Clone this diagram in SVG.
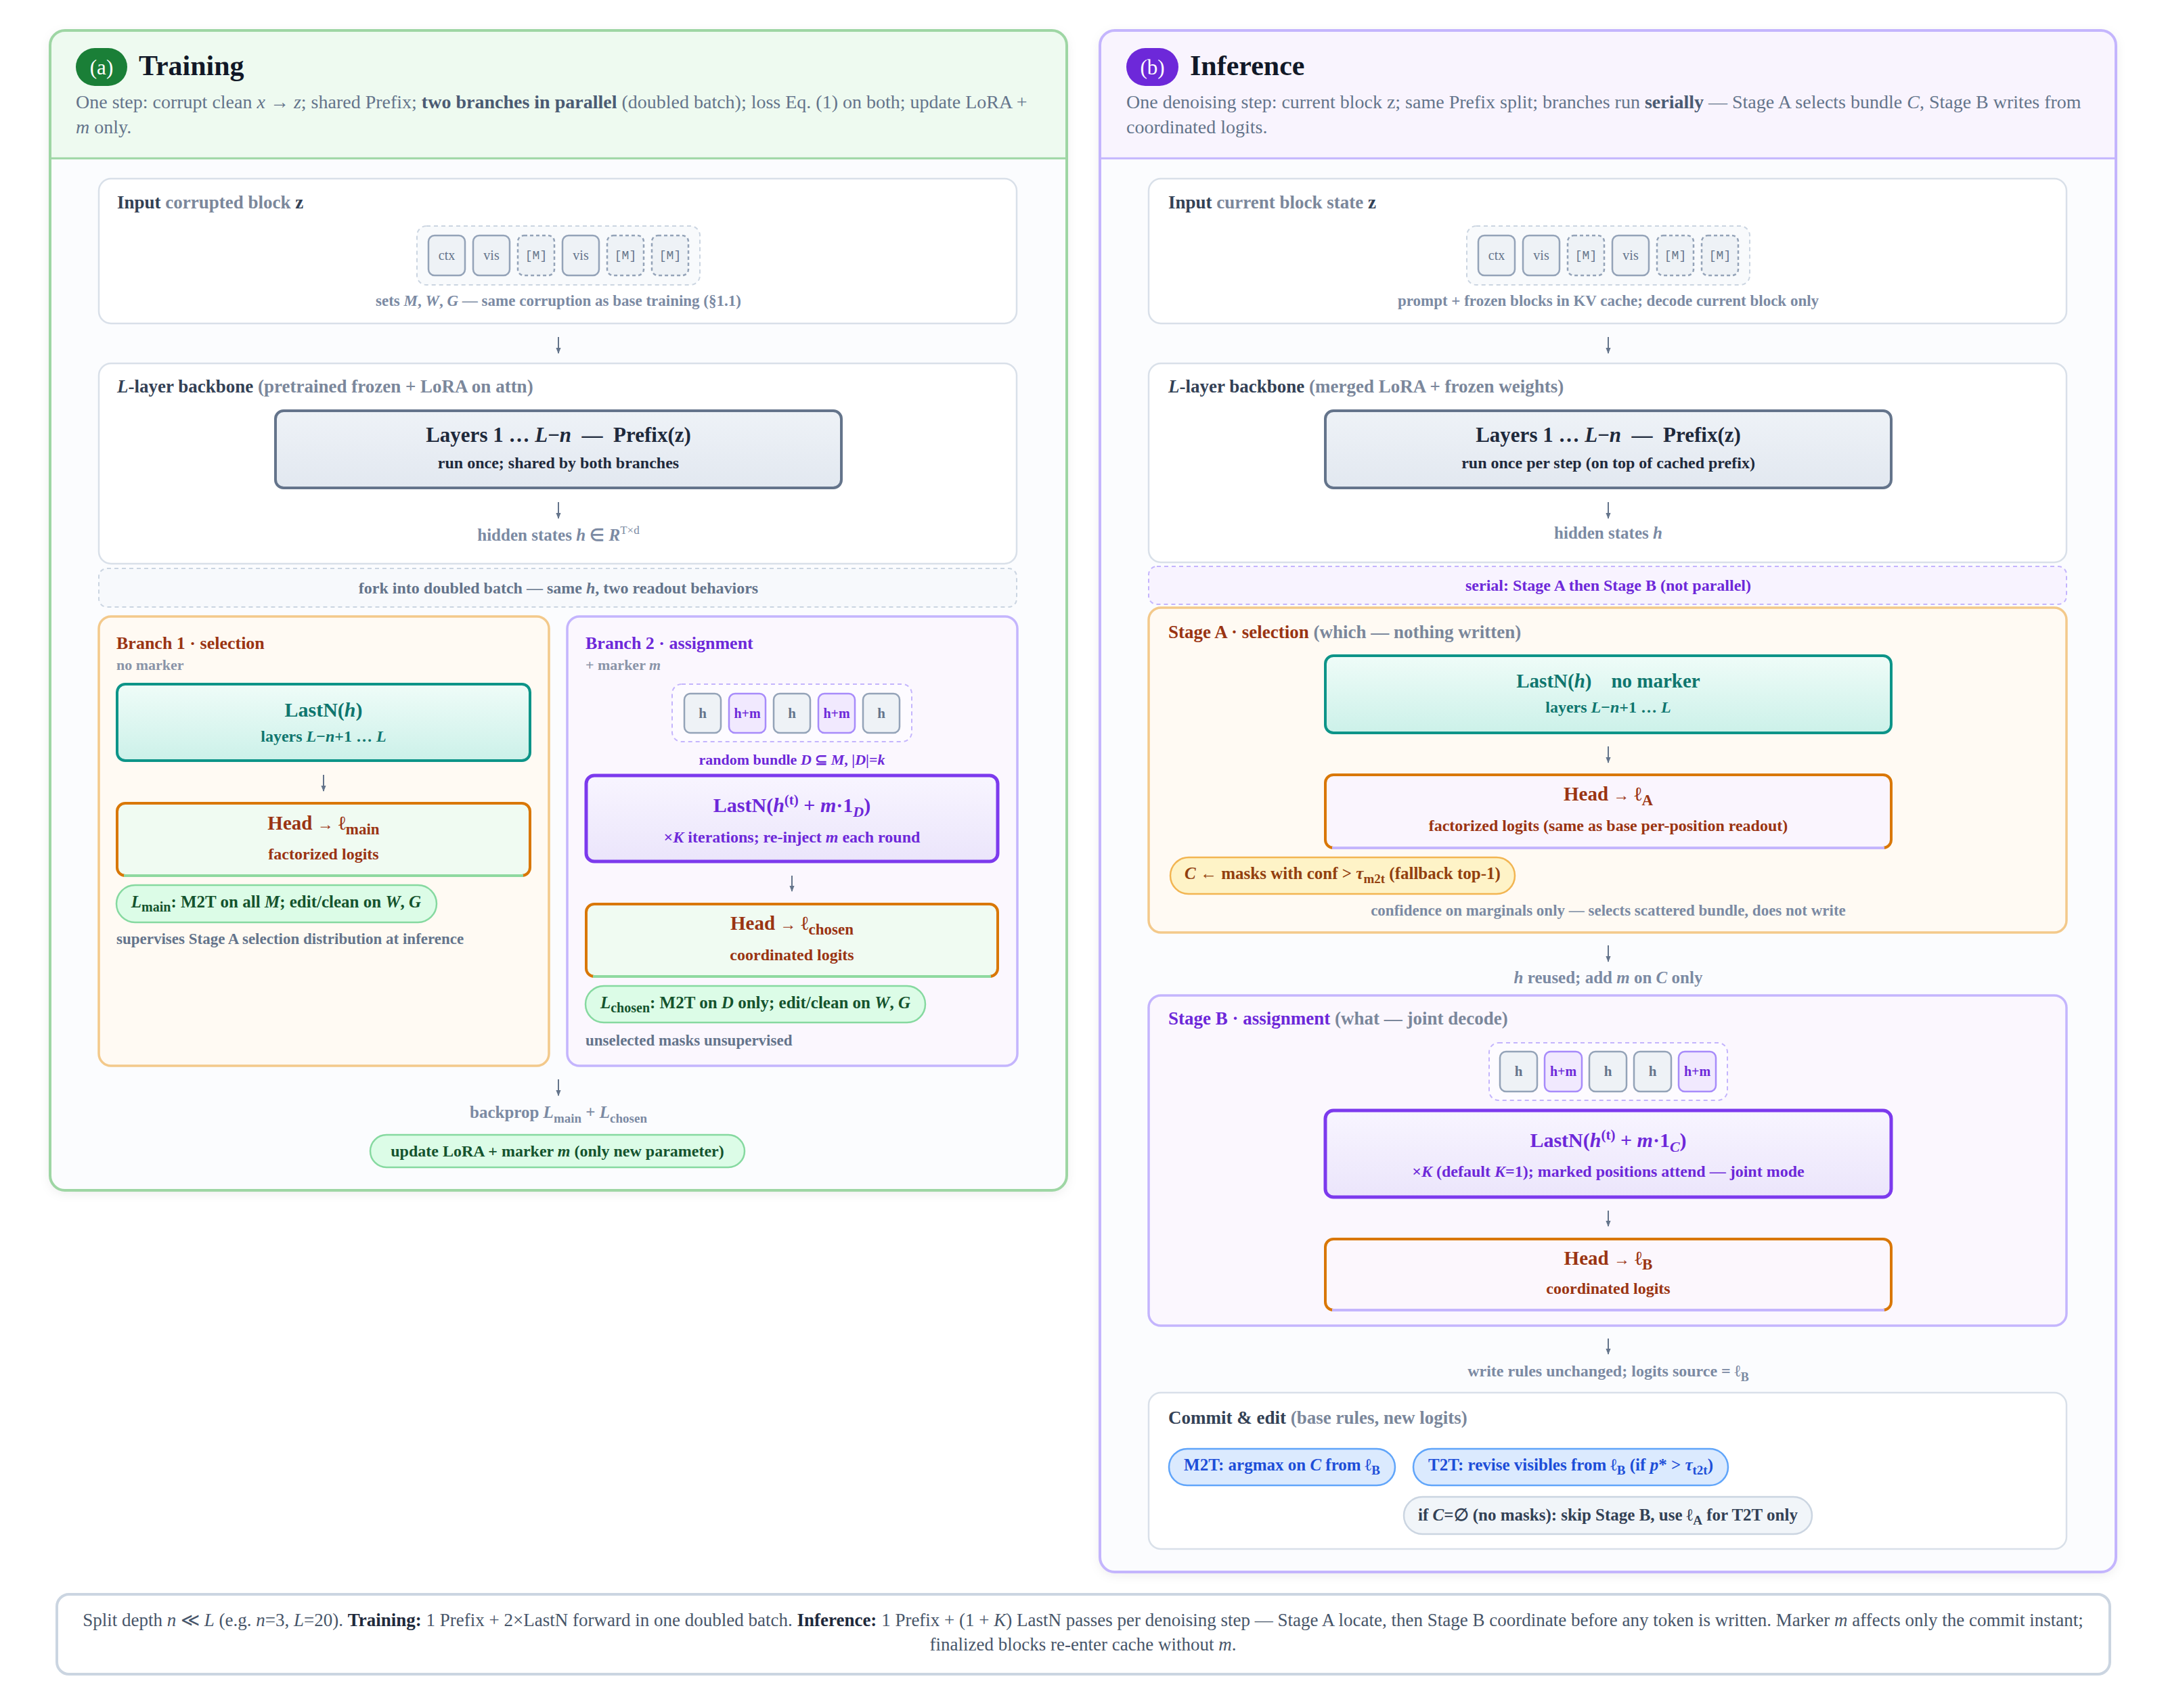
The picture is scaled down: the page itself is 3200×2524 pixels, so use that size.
<svg xmlns="http://www.w3.org/2000/svg" width="3200" height="2524" viewBox="0 0 3200 2524">
<defs>
<style>
text{font-family:"Liberation Serif","Times New Roman",serif;}
.sub{font-size:28px;fill:#64748b;}
.sub .b{font-weight:bold;fill:#4b5b73;}
.h1{font-size:42px;font-weight:bold;fill:#111827;}
.badge{font-size:31px;fill:#fff;text-anchor:middle;}
.bt{font-size:27px;font-weight:bold;fill:#334155;}
.gr{fill:#7b879b;}
.cap{font-size:23px;font-weight:bold;fill:#7b8aa3;text-anchor:middle;}
.capP{font-size:24px;font-weight:bold;fill:#6d28d9;text-anchor:middle;}
.pt{font-size:31px;font-weight:bold;fill:#1e293b;text-anchor:middle;}
.ps{font-size:24px;font-weight:bold;fill:#1e293b;text-anchor:middle;}
.tt{font-size:30px;font-weight:bold;fill:#0f766e;text-anchor:middle;}
.ts{font-size:24px;font-weight:bold;fill:#0f766e;text-anchor:middle;}
.vt{font-size:30px;font-weight:bold;fill:#6d28d9;text-anchor:middle;}
.vs{font-size:24px;font-weight:bold;fill:#6d28d9;text-anchor:middle;}
.ot{font-size:29px;font-weight:bold;fill:#9a3412;text-anchor:middle;}
.os{font-size:24px;font-weight:bold;fill:#9a3412;text-anchor:middle;}
.arw{font-weight:normal;font-size:24px;}
.gp{font-size:25px;font-weight:bold;fill:#14532d;text-anchor:middle;}
.pa{font-size:25px;font-weight:bold;fill:#92400e;text-anchor:middle;}
.pb{font-size:25px;font-weight:bold;fill:#1d4ed8;text-anchor:middle;}
.pg{font-size:25px;font-weight:bold;fill:#334155;text-anchor:middle;}
.note{font-size:23px;font-weight:bold;fill:#64748b;}
.nm{font-size:22px;font-weight:bold;fill:#8a94a8;}
.ti{font-size:26px;font-weight:bold;}
.ck{font-size:20px;fill:#64748b;text-anchor:middle;}
.ckm{font-size:18px;fill:#64748b;text-anchor:middle;font-family:"Liberation Mono","DejaVu Sans Mono",monospace;}
.ckh{font-size:21px;font-weight:bold;fill:#64748b;text-anchor:middle;}
.ckp{font-size:20px;font-weight:bold;fill:#6d28d9;text-anchor:middle;}
.chip{fill:#eef2f6;stroke:#94a3b8;stroke-width:2.5;}
.chipd{fill:#eef2f6;stroke:#94a3b8;stroke-width:2.5;stroke-dasharray:5 4;}
.chipp{fill:#f1e9fe;stroke:#a78bfa;stroke-width:2.5;}
.grp{fill:#f8fafc;stroke:#cbd5e1;stroke-width:2;stroke-dasharray:6 5;}
.grpp{fill:#fdfbff;stroke:#c4b5fd;stroke-width:2;stroke-dasharray:6 5;}
.card{fill:#ffffff;stroke:#d9e0e9;stroke-width:2.5;}
.pre{fill:url(#gPre);stroke:#64748b;stroke-width:4;}
.teal{fill:url(#gTeal);stroke:#0d9488;stroke-width:4;}
.vio{fill:url(#gVio);stroke:#7c3aed;stroke-width:5;}
.head{stroke:#d97706;stroke-width:4;}
.obox{fill:#fffaf3;stroke:#f3c98b;stroke-width:3.5;}
.pbox{fill:#fbf7fe;stroke:#c4b5fd;stroke-width:3.5;}
.gpill{fill:#dcfce7;stroke:#86d9a0;stroke-width:2.5;}
.foot{font-size:27px;fill:#475569;text-anchor:middle;}
.foot .b{font-weight:bold;fill:#1e293b;}
.conn{stroke:#64748b;stroke-width:2;fill:none;}
</style>
<linearGradient id="gPre" x1="0" y1="0" x2="0" y2="1"><stop offset="0" stop-color="#eef2f7"/><stop offset="1" stop-color="#e2e8f0"/></linearGradient>
<linearGradient id="gTeal" x1="0" y1="0" x2="0" y2="1"><stop offset="0" stop-color="#effcf8"/><stop offset="1" stop-color="#ccf1e9"/></linearGradient>
<linearGradient id="gVio" x1="0" y1="0" x2="0" y2="1"><stop offset="0" stop-color="#f8f5ff"/><stop offset="1" stop-color="#ebe5fb"/></linearGradient>
<marker id="arr" viewBox="0 0 10 10" refX="9" refY="5" markerWidth="9" markerHeight="9" markerUnits="userSpaceOnUse" orient="auto"><path d="M0,1 L10,5 L0,9 z" fill="#64748b"/></marker>
<filter id="sh" x="-5%" y="-5%" width="110%" height="110%"><feDropShadow dx="0" dy="4" stdDeviation="8" flood-color="#0f172a" flood-opacity="0.08"/></filter>
<clipPath id="clipL"><rect x="74" y="45" width="1502" height="1714" rx="22"/></clipPath>
<clipPath id="clipR"><rect x="1625" y="45" width="1501" height="2278" rx="22"/></clipPath>
</defs>
<rect width="3200" height="2524" fill="#ffffff"/>

<!-- ===== Panel (a) Training ===== -->
<g id="panel-training">
<rect x="74" y="45" width="1502" height="1714" rx="22" fill="#fbfcfe" filter="url(#sh)"/>
<rect x="74" y="45" width="1502" height="189" fill="#eefaf0" clip-path="url(#clipL)"/>
<line x1="74" y1="234" x2="1576" y2="234" stroke="#9ed6a4" stroke-width="3"/>
<rect x="74" y="45" width="1502" height="1714" rx="22" fill="none" stroke="#9ed6a4" stroke-width="4"/>
<rect x="112" y="71" width="76" height="56" rx="28" fill="#1a7f37"/>
<text class="badge" x="150" y="110">(a)</text>
<text class="h1" x="205" y="111">Training</text>
<text class="sub" x="112" y="160">One step: corrupt clean <tspan font-style="italic">x</tspan> → <tspan font-style="italic">z</tspan>; shared Prefix; <tspan class="b">two branches in parallel</tspan> (doubled batch); loss Eq. (1) on both; update LoRA +</text>
<text class="sub" x="112" y="197"><tspan font-style="italic">m</tspan> only.</text>
</g>

<g id="train-input">
<rect class="card" x="146" y="264" width="1356" height="214" rx="18"/>
<text class="bt" x="173" y="308">Input <tspan class="gr">corrupted block </tspan>z</text>
<rect class="grp" x="616" y="334" width="418" height="87" rx="14"/>
<rect class="chip" x="633" y="348" width="54" height="59" rx="9"/><text class="ck" x="660" y="384">ctx</text>
<rect class="chip" x="699" y="348" width="54" height="59" rx="9"/><text class="ck" x="726" y="384">vis</text>
<rect class="chipd" x="765" y="348" width="54" height="59" rx="9"/><text class="ckm" x="792" y="383">[M]</text>
<rect class="chip" x="831" y="348" width="54" height="59" rx="9"/><text class="ck" x="858" y="384">vis</text>
<rect class="chipd" x="897" y="348" width="54" height="59" rx="9"/><text class="ckm" x="924" y="383">[M]</text>
<rect class="chipd" x="963" y="348" width="54" height="59" rx="9"/><text class="ckm" x="990" y="383">[M]</text>
<text class="cap" x="825" y="452">sets <tspan font-style="italic">M</tspan>, <tspan font-style="italic">W</tspan>, <tspan font-style="italic">G</tspan> — same corruption as base training (§1.1)</text>
</g>

<g id="train-backbone">
<rect class="card" x="146" y="537" width="1356" height="296" rx="18"/>
<text class="bt" x="173" y="580"><tspan font-style="italic">L</tspan>-layer backbone <tspan class="gr">(pretrained frozen + LoRA on attn)</tspan></text>
</g>
<g id="train-prefix">
<rect class="pre" x="407" y="607" width="836" height="114" rx="12"/>
<text class="pt" x="825" y="653">Layers 1 … <tspan font-style="italic">L</tspan>−<tspan font-style="italic">n</tspan>&#160; —&#160; Prefix(z)</text>
<text class="ps" x="825" y="692">run once; shared by both branches</text>
</g>
<g id="train-hidden">
<text class="cap" x="825" y="799" style="font-size:25px">hidden states <tspan font-style="italic">h</tspan> ∈ <tspan font-style="italic">R</tspan><tspan dy="-10" style="font-size:17px;font-weight:normal">T×d</tspan></text>
</g>
<g id="train-fork">
<rect x="146" y="840" width="1356" height="57" rx="12" fill="#f7f9fc" stroke="#cbd5e1" stroke-width="2" stroke-dasharray="6 5"/>
<text class="cap" x="825" y="877" style="font-size:24px;fill:#64748b">fork into doubled batch — same <tspan font-style="italic">h</tspan>, two readout behaviors</text>
</g>

<g id="branch1">
<rect class="obox" x="146" y="911" width="665" height="664" rx="18"/>
<text class="ti" x="172" y="959" fill="#9a3412">Branch 1 · selection</text>
<text class="nm" x="172" y="990">no marker</text>
</g>
<g id="b1-lastn">
<rect class="teal" x="173" y="1011" width="610" height="113" rx="12"/>
<text class="tt" x="478" y="1059">LastN(<tspan font-style="italic">h</tspan>)</text>
<text class="ts" x="478" y="1096">layers <tspan font-style="italic">L</tspan>−<tspan font-style="italic">n</tspan>+1 … <tspan font-style="italic">L</tspan></text>
</g>
<g id="b1-head">
<rect class="head" x="173" y="1187" width="610" height="107" rx="12" fill="#f0fbf2"/>
<line x1="183" y1="1294" x2="773" y2="1294" stroke="#8fd9a0" stroke-width="4"/>
<text class="ot" x="478" y="1226">Head <tspan class="arw">→</tspan> ℓ<tspan dy="7" style="font-size:23px">main</tspan></text>
<text class="os" x="478" y="1270">factorized logits</text>
</g>
<g id="b1-loss">
<rect class="gpill" x="172" y="1308" width="473" height="55" rx="27.5"/>
<text class="gp" x="408" y="1341"><tspan font-style="italic">L</tspan><tspan dy="6" style="font-size:20px">main</tspan><tspan dy="-6">: M2T on all </tspan><tspan font-style="italic">M</tspan>; edit/clean on <tspan font-style="italic">W</tspan>, <tspan font-style="italic">G</tspan></text>
<text class="note" x="172" y="1395">supervises Stage A selection distribution at inference</text>
</g>

<g id="branch2">
<rect class="pbox" x="838" y="911" width="665" height="664" rx="18"/>
<text class="ti" x="865" y="959" fill="#6d28d9">Branch 2 · assignment</text>
<text class="nm" x="865" y="990">+ marker <tspan font-style="italic">m</tspan></text>
<rect class="grpp" x="993" y="1011" width="354" height="85" rx="14"/>
<rect class="chip" x="1011" y="1025" width="54" height="58" rx="9"/><text class="ckh" x="1038" y="1061">h</text>
<rect class="chipp" x="1077" y="1025" width="54" height="58" rx="9"/><text class="ckp" x="1104" y="1061">h+m</text>
<rect class="chip" x="1143" y="1025" width="54" height="58" rx="9"/><text class="ckh" x="1170" y="1061">h</text>
<rect class="chipp" x="1209" y="1025" width="54" height="58" rx="9"/><text class="ckp" x="1236" y="1061">h+m</text>
<rect class="chip" x="1275" y="1025" width="54" height="58" rx="9"/><text class="ckh" x="1302" y="1061">h</text>
<text class="capP" x="1170" y="1130" style="font-size:22px">random bundle <tspan font-style="italic">D</tspan> ⊆ <tspan font-style="italic">M</tspan>, |<tspan font-style="italic">D</tspan>|=<tspan font-style="italic">k</tspan></text>
</g>
<g id="b2-lastn">
<rect class="vio" x="866" y="1146" width="608" height="127" rx="12"/>
<text class="vt" x="1170" y="1200">LastN(<tspan font-style="italic">h</tspan><tspan dy="-11" style="font-size:21px">(t)</tspan><tspan dy="11"> + </tspan><tspan font-style="italic">m</tspan>·1<tspan dy="7" font-style="italic" style="font-size:22px">D</tspan><tspan dy="-7">)</tspan></text>
<text class="vs" x="1170" y="1245">×<tspan font-style="italic">K</tspan> iterations; re-inject <tspan font-style="italic">m</tspan> each round</text>
</g>
<g id="b2-head">
<rect class="head" x="866" y="1336" width="608" height="107" rx="12" fill="#f0fbf2"/>
<line x1="876" y1="1443" x2="1464" y2="1443" stroke="#8fd9a0" stroke-width="4"/>
<text class="ot" x="1170" y="1374">Head <tspan class="arw">→</tspan> ℓ<tspan dy="7" style="font-size:23px">chosen</tspan></text>
<text class="os" x="1170" y="1419">coordinated logits</text>
</g>
<g id="b2-loss">
<rect class="gpill" x="865" y="1457" width="502" height="54" rx="27"/>
<text class="gp" x="1116" y="1490"><tspan font-style="italic">L</tspan><tspan dy="6" style="font-size:20px">chosen</tspan><tspan dy="-6">: M2T on </tspan><tspan font-style="italic">D</tspan> only; edit/clean on <tspan font-style="italic">W</tspan>, <tspan font-style="italic">G</tspan></text>
<text class="note" x="865" y="1545">unselected masks unsupervised</text>
</g>

<g id="train-backprop">
<text class="cap" x="825" y="1652" style="font-size:25px">backprop <tspan font-style="italic">L</tspan><tspan dy="7" style="font-size:19px">main</tspan><tspan dy="-7"> + </tspan><tspan font-style="italic">L</tspan><tspan dy="7" style="font-size:19px">chosen</tspan></text>
</g>
<g id="train-update">
<rect class="gpill" x="547" y="1677" width="553" height="48" rx="24"/>
<text class="gp" x="823.5" y="1709" style="font-size:24px">update LoRA + marker <tspan font-style="italic">m</tspan> (only new parameter)</text>
</g>

<!-- ===== Panel (b) Inference ===== -->
<g id="panel-inference">
<rect x="1625" y="45" width="1501" height="2278" rx="22" fill="#fbfcfe" filter="url(#sh)"/>
<rect x="1625" y="45" width="1501" height="189" fill="#f9f4fe" clip-path="url(#clipR)"/>
<line x1="1625" y1="234" x2="3126" y2="234" stroke="#c4b5fd" stroke-width="3"/>
<rect x="1625" y="45" width="1501" height="2278" rx="22" fill="none" stroke="#c4b5fd" stroke-width="4"/>
<rect x="1664" y="71" width="77" height="56" rx="28" fill="#6d28d9"/>
<text class="badge" x="1702.5" y="110">(b)</text>
<text class="h1" x="1758" y="111">Inference</text>
<text class="sub" x="1664" y="160">One denoising step: current block z; same Prefix split; branches run <tspan class="b">serially</tspan> — Stage A selects bundle <tspan font-style="italic">C</tspan>, Stage B writes from</text>
<text class="sub" x="1664" y="197">coordinated logits.</text>
</g>

<g id="inf-input">
<rect class="card" x="1697" y="264" width="1356" height="214" rx="18"/>
<text class="bt" x="1726" y="308">Input <tspan class="gr">current block state </tspan>z</text>
<rect class="grp" x="2167" y="334" width="418" height="87" rx="14"/>
<rect class="chip" x="2184" y="348" width="54" height="59" rx="9"/><text class="ck" x="2211" y="384">ctx</text>
<rect class="chip" x="2250" y="348" width="54" height="59" rx="9"/><text class="ck" x="2277" y="384">vis</text>
<rect class="chipd" x="2316" y="348" width="54" height="59" rx="9"/><text class="ckm" x="2343" y="383">[M]</text>
<rect class="chip" x="2382" y="348" width="54" height="59" rx="9"/><text class="ck" x="2409" y="384">vis</text>
<rect class="chipd" x="2448" y="348" width="54" height="59" rx="9"/><text class="ckm" x="2475" y="383">[M]</text>
<rect class="chipd" x="2514" y="348" width="54" height="59" rx="9"/><text class="ckm" x="2541" y="383">[M]</text>
<text class="cap" x="2376" y="452">prompt + frozen blocks in KV cache; decode current block only</text>
</g>

<g id="inf-backbone">
<rect class="card" x="1697" y="537" width="1356" height="294" rx="18"/>
<text class="bt" x="1726" y="580"><tspan font-style="italic">L</tspan>-layer backbone <tspan class="gr">(merged LoRA + frozen weights)</tspan></text>
</g>
<g id="inf-prefix">
<rect class="pre" x="1958" y="607" width="836" height="114" rx="12"/>
<text class="pt" x="2376" y="653">Layers 1 … <tspan font-style="italic">L</tspan>−<tspan font-style="italic">n</tspan>&#160; —&#160; Prefix(z)</text>
<text class="ps" x="2376" y="692">run once per step (on top of cached prefix)</text>
</g>
<g id="inf-hidden">
<text class="cap" x="2376" y="796" style="font-size:25px">hidden states <tspan font-style="italic">h</tspan></text>
</g>
<g id="inf-serial">
<rect x="1697" y="837" width="1356" height="56" rx="12" fill="#f8f3ff" stroke="#c4b5fd" stroke-width="2" stroke-dasharray="6 5"/>
<text class="capP" x="2376" y="873">serial: Stage A then Stage B (not parallel)</text>
</g>

<g id="stageA">
<rect class="obox" x="1697" y="898" width="1356" height="480" rx="18"/>
<text class="ti" x="1726" y="943" fill="#9a3412" style="font-size:27px">Stage A · selection <tspan class="gr">(which — nothing written)</tspan></text>
</g>
<g id="sa-lastn">
<rect class="teal" x="1958" y="969" width="836" height="114" rx="12"/>
<text class="tt" x="2376" y="1016" style="font-size:29px">LastN(<tspan font-style="italic">h</tspan>)&#160;&#160;&#160; no marker</text>
<text class="ts" x="2376" y="1053">layers <tspan font-style="italic">L</tspan>−<tspan font-style="italic">n</tspan>+1 … <tspan font-style="italic">L</tspan></text>
</g>
<g id="sa-head">
<rect class="head" x="1958" y="1145" width="836" height="108" rx="12" fill="#faf5fe"/>
<line x1="1968" y1="1253" x2="2784" y2="1253" stroke="#c4b5fd" stroke-width="4"/>
<text class="ot" x="2376" y="1183">Head <tspan class="arw">→</tspan> ℓ<tspan dy="7" style="font-size:23px">A</tspan></text>
<text class="os" x="2376" y="1228">factorized logits (same as base per-position readout)</text>
</g>
<g id="sa-select">
<rect x="1729" y="1267" width="509" height="54" rx="27" fill="#fef3c7" stroke="#f2b552" stroke-width="2.5"/>
<text class="pa" x="1983.5" y="1299"><tspan font-style="italic">C</tspan> ← masks with conf &gt; <tspan font-style="italic">τ</tspan><tspan dy="6" style="font-size:19px">m2t</tspan><tspan dy="-6"> (fallback top-1)</tspan></text>
<text class="cap" x="2376" y="1353">confidence on marginals only — selects scattered bundle, does not write</text>
</g>
<g id="inf-reuse">
<text class="cap" x="2376" y="1453" style="font-size:25px"><tspan font-style="italic">h</tspan> reused; add <tspan font-style="italic">m</tspan> on <tspan font-style="italic">C</tspan> only</text>
</g>

<g id="stageB">
<rect class="pbox" x="1697" y="1471" width="1356" height="488" rx="18"/>
<text class="ti" x="1726" y="1514" fill="#6d28d9" style="font-size:27px">Stage B · assignment <tspan class="gr">(what — joint decode)</tspan></text>
<rect class="grpp" x="2200" y="1541" width="352" height="85" rx="14"/>
<rect class="chip" x="2216" y="1554" width="55" height="59" rx="9"/><text class="ckh" x="2243.5" y="1590">h</text>
<rect class="chipp" x="2282" y="1554" width="55" height="59" rx="9"/><text class="ckp" x="2309.5" y="1590">h+m</text>
<rect class="chip" x="2348" y="1554" width="55" height="59" rx="9"/><text class="ckh" x="2375.5" y="1590">h</text>
<rect class="chip" x="2414" y="1554" width="55" height="59" rx="9"/><text class="ckh" x="2441.5" y="1590">h</text>
<rect class="chipp" x="2480" y="1554" width="55" height="59" rx="9"/><text class="ckp" x="2507.5" y="1590">h+m</text>
</g>
<g id="sb-lastn">
<rect class="vio" x="1958" y="1641" width="836" height="128" rx="12"/>
<text class="vt" x="2376" y="1695">LastN(<tspan font-style="italic">h</tspan><tspan dy="-11" style="font-size:21px">(t)</tspan><tspan dy="11"> + </tspan><tspan font-style="italic">m</tspan>·1<tspan dy="7" font-style="italic" style="font-size:22px">C</tspan><tspan dy="-7">)</tspan></text>
<text class="vs" x="2376" y="1739">×<tspan font-style="italic">K</tspan> (default <tspan font-style="italic">K</tspan>=1); marked positions attend — joint mode</text>
</g>
<g id="sb-head">
<rect class="head" x="1958" y="1831" width="836" height="105" rx="12" fill="#fcf7fd"/>
<line x1="1968" y1="1936" x2="2784" y2="1936" stroke="#c4b5fd" stroke-width="4"/>
<text class="ot" x="2376" y="1869">Head <tspan class="arw">→</tspan> ℓ<tspan dy="7" style="font-size:23px">B</tspan></text>
<text class="os" x="2376" y="1912">coordinated logits</text>
</g>
<g id="inf-write">
<text class="cap" x="2376" y="2034" style="font-size:24px">write rules unchanged; logits source = ℓ<tspan dy="7" style="font-size:18px">B</tspan></text>
</g>

<g id="commit">
<rect class="card" x="1697" y="2058" width="1356" height="231" rx="18"/>
<text class="bt" x="1726" y="2104">Commit &amp; edit <tspan class="gr">(base rules, new logits)</tspan></text>
<rect x="1727" y="2141" width="334" height="54" rx="27" fill="#dbeafe" stroke="#60a5fa" stroke-width="2.5"/>
<text class="pb" x="1894" y="2173">M2T: argmax on <tspan font-style="italic">C</tspan> from ℓ<tspan dy="6" style="font-size:19px">B</tspan></text>
<rect x="2088" y="2141" width="465" height="54" rx="27" fill="#dbeafe" stroke="#60a5fa" stroke-width="2.5"/>
<text class="pb" x="2320.5" y="2173">T2T: revise visibles from ℓ<tspan dy="6" style="font-size:19px">B</tspan><tspan dy="-6"> (if </tspan><tspan font-style="italic">p</tspan>* &gt; <tspan font-style="italic">τ</tspan><tspan dy="6" style="font-size:19px">t2t</tspan><tspan dy="-6">)</tspan></text>
<rect x="2074" y="2212" width="603" height="55" rx="27.5" fill="#f1f5f9" stroke="#cbd5e1" stroke-width="2.5"/>
<text class="pg" x="2375.5" y="2247">if <tspan font-style="italic">C</tspan>=∅ (no masks): skip Stage B, use ℓ<tspan dy="6" style="font-size:19px">A</tspan><tspan dy="-6"> for T2T only</tspan></text>
</g>

<!-- ===== Footer ===== -->
<g id="footer">
<rect x="84" y="2356" width="3033" height="118" rx="18" fill="#ffffff" stroke="#cbd5e1" stroke-width="4"/>
<text class="foot" x="1600" y="2403">Split depth <tspan font-style="italic">n</tspan> ≪ <tspan font-style="italic">L</tspan> (e.g. <tspan font-style="italic">n</tspan>=3, <tspan font-style="italic">L</tspan>=20). <tspan class="b">Training:</tspan> 1 Prefix + 2×LastN forward in one doubled batch. <tspan class="b">Inference:</tspan> 1 Prefix + (1 + <tspan font-style="italic">K</tspan>) LastN passes per denoising step — Stage A locate, then Stage B coordinate before any token is written. Marker <tspan font-style="italic">m</tspan> affects only the commit instant;</text>
<text class="foot" x="1600" y="2439">finalized blocks re-enter cache without <tspan font-style="italic">m</tspan>.</text>
</g>

<!-- ===== Connectors ===== -->
<g id="connectors">
<line class="conn" x1="825" y1="498" x2="825" y2="522" marker-end="url(#arr)"/>
<line class="conn" x1="825" y1="742" x2="825" y2="766" marker-end="url(#arr)"/>
<line class="conn" x1="478" y1="1145" x2="478" y2="1169" marker-end="url(#arr)"/>
<line class="conn" x1="1170" y1="1294" x2="1170" y2="1317" marker-end="url(#arr)"/>
<line class="conn" x1="825" y1="1595" x2="825" y2="1619" marker-end="url(#arr)"/>
<line class="conn" x1="2376" y1="498" x2="2376" y2="522" marker-end="url(#arr)"/>
<line class="conn" x1="2376" y1="742" x2="2376" y2="766" marker-end="url(#arr)"/>
<line class="conn" x1="2376" y1="1103" x2="2376" y2="1127" marker-end="url(#arr)"/>
<line class="conn" x1="2376" y1="1397" x2="2376" y2="1421" marker-end="url(#arr)"/>
<line class="conn" x1="2376" y1="1789" x2="2376" y2="1812" marker-end="url(#arr)"/>
<line class="conn" x1="2376" y1="1978" x2="2376" y2="2001" marker-end="url(#arr)"/>
</g>
</svg>
